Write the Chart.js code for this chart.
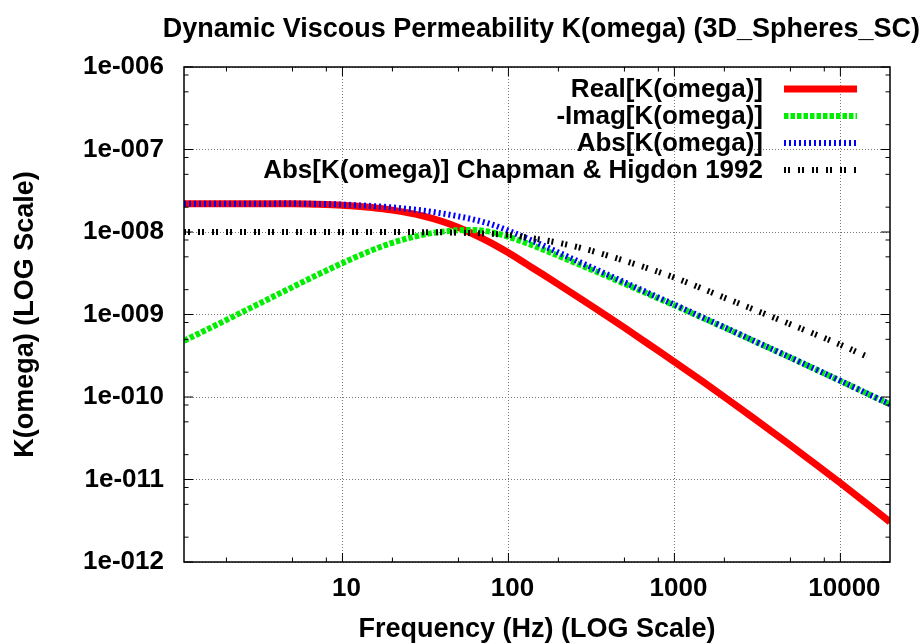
<!DOCTYPE html>
<html>
<head>
<meta charset="utf-8">
<script src="https://cdn.jsdelivr.net/npm/chart.js@4.4.1/dist/chart.umd.min.js"></script>
<style>
  html, body { margin: 0; padding: 0; background: #fff; }
  #wrap { width: 920px; height: 643px; }
</style>
</head>
<body>
<div id="wrap"><canvas id="chart"></canvas></div>
<script>
// frequencies (Hz) shared by the three computed curves
const freq = [1.11, 2, 3, 5, 7, 10, 15, 20, 30, 40, 50, 60, 70, 80, 100, 130, 160, 200, 270, 350,
  500, 700, 1000, 1500, 2000, 3000, 5000, 7000, 10000, 14000, 19900];

const realK = [2.20e-8, 2.20e-8, 2.20e-8, 2.20e-8, 2.17e-8, 2.11e-8, 1.977e-8, 1.84e-8, 1.578e-8, 1.339e-8,
  1.136e-8, 9.67e-9, 8.32e-9, 7.24e-9, 5.6e-9, 4.02e-9, 3.09e-9, 2.32e-9, 1.57e-9, 1.116e-9,
  6.92e-10, 4.36e-10, 2.67e-10, 1.51e-10, 1.0e-10, 5.55e-11, 2.6e-11, 1.56e-11, 9.05e-12, 5.35e-12, 3.05e-12];

const imagK = [4.8e-10, 8.6e-10, 1.29e-9, 2.15e-9, 3.0e-9, 4.2e-9, 6.0e-9, 7.4e-9, 9.2e-9, 1.01e-8,
  1.05e-8, 1.06e-8, 1.036e-8, 9.89e-9, 8.74e-9, 7.28e-9, 6.19e-9, 5.15e-9, 4.0e-9, 3.21e-9,
  2.36e-9, 1.76e-9, 1.29e-9, 8.98e-10, 6.94e-10, 4.79e-10, 3.0e-10, 2.19e-10, 1.567e-10, 1.138e-10, 8.15e-11];

const absK = [2.20e-8, 2.20e-8, 2.204e-8, 2.21e-8, 2.19e-8, 2.15e-8, 2.066e-8, 1.983e-8, 1.827e-8, 1.677e-8,
  1.547e-8, 1.435e-8, 1.329e-8, 1.226e-8, 1.038e-8, 8.32e-9, 6.92e-9, 5.65e-9, 4.3e-9, 3.4e-9,
  2.46e-9, 1.814e-9, 1.318e-9, 9.11e-10, 7.01e-10, 4.82e-10, 3.01e-10, 2.196e-10, 1.57e-10, 1.139e-10, 8.16e-11];

// Chapman & Higdon 1992 reference curve
const chFreq = [1.11, 2, 5, 10, 20, 30, 40, 50, 70, 100, 150, 200, 300, 420, 700, 1000, 2000, 5000, 10000, 14400];
const chAbsK = [1.0e-8, 1.0e-8, 1.0e-8, 1.0e-8, 1.0e-8, 9.95e-9, 9.9e-9, 9.8e-9, 9.6e-9, 9.2e-9,
  8.2e-9, 7.4e-9, 6.1e-9, 5.0e-9, 3.6e-9, 2.8e-9, 1.6e-9, 7.6e-10, 4.3e-10, 3.1e-10];

const seriesLabels = ['Real[K(omega)]', '-Imag[K(omega)]', 'Abs[K(omega)]', 'Abs[K(omega)] Chapman & Higdon 1992'];

const xTicks = [10, 100, 1000, 10000];
const yTicks = [1e-12, 1e-11, 1e-10, 1e-9, 1e-8, 1e-7, 1e-6];
const minorSteps = [2, 5, 8];

const FONT = 'Liberation Sans, Arial, sans-serif';
Chart.defaults.font.family = FONT;
Chart.defaults.color = '#000';

function pts(xs, ys) {
  return xs.map((f, i) => ({ x: f, y: ys[i] }));
}

function fmtExp(v) {
  const e = Math.round(Math.log10(v));
  return '1e' + (e < 0 ? '-' : '+') + String(Math.abs(e)).padStart(3, '0');
}

// gnuplot-like frame with inward ticks on all four sides
const frameTicks = {
  id: 'frameTicks',
  afterDatasetsDraw(chart) {
    const { ctx, chartArea: a, scales: { x, y } } = chart;
    ctx.save();
    ctx.strokeStyle = '#000';
    ctx.lineWidth = 1;
    ctx.beginPath();
    const xDecades = [1, 10, 100, 1000, 10000];
    xDecades.forEach(d => {
      minorSteps.forEach(m => {
        const v = d * m;
        if (v < x.min || v > x.max) return;
        const p = x.getPixelForValue(v);
        ctx.moveTo(p, a.bottom); ctx.lineTo(p, a.bottom - 4.5);
        ctx.moveTo(p, a.top); ctx.lineTo(p, a.top + 4.5);
      });
    });
    xTicks.forEach(v => {
      const p = x.getPixelForValue(v);
      ctx.moveTo(p, a.bottom); ctx.lineTo(p, a.bottom - 9);
      ctx.moveTo(p, a.top); ctx.lineTo(p, a.top + 9);
    });
    yTicks.forEach((d, i) => {
      const p = y.getPixelForValue(d);
      ctx.moveTo(a.left, p); ctx.lineTo(a.left + 9, p);
      ctx.moveTo(a.right, p); ctx.lineTo(a.right - 9, p);
      if (i === yTicks.length - 1) return;
      minorSteps.forEach(m => {
        const q = y.getPixelForValue(d * m);
        ctx.moveTo(a.left, q); ctx.lineTo(a.left + 4.5, q);
        ctx.moveTo(a.right, q); ctx.lineTo(a.right - 4.5, q);
      });
    });
    ctx.stroke();
    ctx.lineWidth = 1.5;
    ctx.strokeRect(a.left, a.top, a.right - a.left, a.bottom - a.top);
    ctx.restore();
  }
};

// legend: right aligned text, line sample to the right
const keyBox = {
  id: 'keyBox',
  afterDraw(chart) {
    const ctx = chart.ctx;
    ctx.save();
    ctx.font = 'bold 26px ' + FONT;
    ctx.textAlign = 'right';
    ctx.textBaseline = 'middle';
    chart.data.datasets.forEach((ds, i) => {
      const yy = 89 + i * 27;
      ctx.fillStyle = '#000';
      ctx.fillText(ds.label, 763, yy + 1);
      ctx.beginPath();
      ctx.strokeStyle = ds.borderColor;
      ctx.lineWidth = ds.borderWidth;
      ctx.setLineDash(ds.borderDash || []);
      ctx.lineCap = 'butt';
      ctx.moveTo(784, yy);
      ctx.lineTo(857, yy);
      ctx.stroke();
    });
    ctx.restore();
  }
};

const common = { pointRadius: 0, fill: false, cubicInterpolationMode: 'monotone', borderCapStyle: 'butt', clip: 0 };

new Chart(document.getElementById('chart'), {
  type: 'line',
  data: {
    datasets: [
      Object.assign({ label: seriesLabels[0], data: pts(freq, realK), borderColor: '#ff0000', borderWidth: 7, order: 4 }, common),
      Object.assign({ label: seriesLabels[1], data: pts(freq, imagK), borderColor: '#00ee00', borderWidth: 6, borderDash: [4.5, 2], order: 3 }, common),
      Object.assign({ label: seriesLabels[2], data: pts(freq, absK), borderColor: '#0000ff', borderWidth: 6, borderDash: [2, 3], order: 2 }, common),
      Object.assign({ label: seriesLabels[3], data: pts(chFreq, chAbsK), borderColor: '#000000', borderWidth: 6, borderDash: [2, 2, 2, 8], order: 1 }, common)
    ]
  },
  options: {
    responsive: true,
    maintainAspectRatio: false,
    animation: false,
    events: [],
    layout: { padding: 0 },
    plugins: {
      legend: { display: false },
      tooltip: { enabled: false },
      title: {
        display: true,
        text: 'Dynamic Viscous Permeability K(omega) (3D_Spheres_SC)',
        align: 'end',
        color: '#000',
        font: { size: 27, weight: 'bold' },
        padding: { top: 13, bottom: 21.6 }
      }
    },
    scales: {
      x: {
        type: 'logarithmic',
        min: 1.11,
        max: 19900,
        afterBuildTicks: s => { s.ticks = xTicks.map(v => ({ value: v })); },
        afterFit: s => { s.height = 81; s.paddingLeft = 0; s.paddingRight = 30; },
        ticks: {
          autoSkip: false,
          maxRotation: 0,
          padding: 11,
          labelOffset: 4,
          font: { size: 26, weight: 'bold' },
          callback: v => String(v)
        },
        grid: {
          drawTicks: false,
          color: '#777',
          lineWidth: 1
        },
        border: { display: false, dash: [1, 2] },
        title: {
          display: true,
          text: 'Frequency (Hz) (LOG Scale)',
          font: { size: 27, weight: 'bold' },
          padding: { top: 0, bottom: -3 }
        }
      },
      y: {
        type: 'logarithmic',
        min: 1e-12,
        max: 1e-6,
        afterBuildTicks: s => { s.ticks = yTicks.map(v => ({ value: v })); },
        afterFit: s => { s.width = 184; },
        ticks: {
          autoSkip: false,
          padding: 20,
          font: { size: 26, weight: 'bold' },
          callback: v => fmtExp(v)
        },
        grid: {
          drawTicks: false,
          color: '#777',
          lineWidth: 1
        },
        border: { display: false, dash: [1, 2] },
        title: {
          display: true,
          text: 'K(omega) (LOG Scale)',
          font: { size: 27, weight: 'bold' },
          padding: { top: 9, bottom: 0 }
        }
      }
    }
  },
  plugins: [frameTicks, keyBox]
});
</script>
</body>
</html>
